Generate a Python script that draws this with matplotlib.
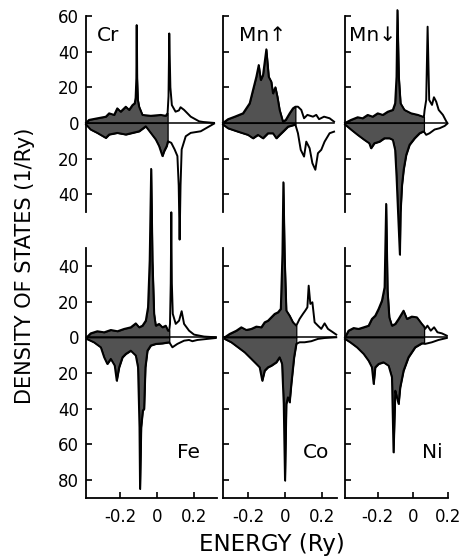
import numpy as np
import matplotlib.pyplot as plt

# spin-resolved local DOS for impurity atoms, energy in Ry, DOS in states/Ry
# spin-down values are stored as magnitudes and drawn below the zero line
cr_up_e = [-0.384, -0.368, -0.323, -0.277, -0.259, -0.232, -0.215, -0.197, -0.169, -0.151, -0.133, -0.121,
           -0.116, -0.112, -0.110, -0.108, -0.104, -0.097, -0.079, -0.034, 0.020, 0.047, 0.057, 0.062,
           0.066, 0.072, 0.080, 0.100, 0.118, 0.127, 0.146, 0.182, 0.227, 0.250, 0.308]
cr_up_d = [0, 1.7, 2.6, 3.5, 5.4, 4.5, 8.2, 6.3, 9.1, 7.3, 10.0, 11.0,
           14, 25, 54.9, 25, 13, 9.1, 4.5, 4.0, 4.5, 4.0, 5.5, 15,
           50.2, 20, 10, 6.3, 7.0, 8.8, 7.3, 3.5, 0.9, 0.5, 0]
cr_dn_e = [-0.384, -0.359, -0.323, -0.277, -0.259, -0.215, -0.169, -0.133, -0.097, -0.061, -0.034, -0.007,
           0.011, 0.029, 0.038, 0.052, 0.057, 0.059, 0.077, 0.095, 0.110, 0.117, 0.122, 0.127,
           0.133, 0.155, 0.182, 0.236, 0.308]
cr_dn_d = [0.9, 3.7, 5.6, 8.4, 6.5, 5.6, 6.5, 5.6, 4.7, 1.9, 5.6, 9.3,
           13.0, 18.6, 15.9, 13.0, 11.0, 10.3, 11.2, 14.9, 18.6, 35, 65.5, 35,
           14.9, 7.5, 5.6, 4.7, 0.4]

mnu_up_e = [-0.335, -0.308, -0.272, -0.227, -0.191, -0.173, -0.155, -0.142, -0.131, -0.119, -0.101, -0.088,
            -0.074, -0.065, -0.052, -0.041, -0.029, -0.011, 0.004, 0.025, 0.043, 0.056, 0.070, 0.088,
            0.103, 0.121, 0.151, 0.169, 0.184, 0.211, 0.241, 0.265]
mnu_up_d = [0, 2.1, 3.5, 5.4, 11.0, 18.5, 25.9, 32.5, 24.1, 26.9, 41.3, 25.9,
            23.1, 16.6, 20.0, 14.7, 7.3, 0.7, 1.7, 5.4, 8.2, 9.1, 9.1, 7.3,
            2.6, 4.5, 3.5, 4.5, 2.1, 3.5, 2.6, 0.7]
mnu_dn_e = [-0.335, -0.308, -0.254, -0.200, -0.173, -0.146, -0.119, -0.092, -0.065, -0.047, -0.029, -0.011,
            0.016, 0.056, 0.070, 0.085, 0.103, 0.115, 0.133, 0.148, 0.164, 0.178, 0.196, 0.214,
            0.241, 0.265]
mnu_dn_d = [0.9, 3.0, 4.9, 6.7, 8.6, 6.7, 8.6, 5.8, 5.8, 8.6, 6.7, 4.9,
            2.1, 0.9, 5.8, 15.1, 18.9, 10.5, 14.2, 22.6, 26.3, 17.0, 15.1, 10.5,
            5.8, 4.9]

mnd_up_e = [-0.386, -0.352, -0.314, -0.286, -0.257, -0.229, -0.200, -0.171, -0.143, -0.114, -0.101, -0.093,
            -0.088, -0.080, -0.070, -0.048, -0.010, 0.029, 0.057, 0.063, 0.067, 0.076, 0.084, 0.093,
            0.109, 0.120, 0.133, 0.147, 0.171, 0.190, 0.196]
mnd_up_d = [0, 1.7, 3.2, 2.6, 4.5, 3.5, 5.4, 4.5, 6.3, 7.3, 11.0, 25.9,
            63.3, 25.9, 11.0, 7.3, 5.4, 4.5, 3.5, 3.5, 7.3, 12.9, 54.0, 12.9,
            10.1, 14.4, 11.9, 7.3, 4.5, 0.9, 0]
mnd_dn_e = [-0.386, -0.352, -0.314, -0.276, -0.248, -0.238, -0.219, -0.190, -0.162, -0.133, -0.114, -0.101,
            -0.093, -0.085, -0.074, -0.070, -0.062, -0.052, -0.038, -0.019, 0.010, 0.038, 0.057, 0.063,
            0.076, 0.095, 0.124, 0.152, 0.181, 0.196]
mnd_dn_d = [0.9, 3.7, 6.7, 9.5, 11.4, 14.2, 11.4, 10.5, 8.6, 8.6, 9.5, 15.1,
            30.0, 48.7, 73.9, 50.0, 35.0, 26.0, 18.0, 12.3, 8.6, 5.8, 4.9, 4.9,
            6.7, 5.8, 3.7, 3.0, 1.7, 0.4]

fe_up_e = [-0.380, -0.359, -0.323, -0.286, -0.250, -0.214, -0.178, -0.142, -0.115, -0.097, -0.079, -0.061,
           -0.049, -0.040, -0.032, -0.025, -0.016, -0.007, 0.011, 0.029, 0.047, 0.059, 0.066, 0.070,
           0.074, 0.077, 0.080, 0.085, 0.101, 0.119, 0.133, 0.146, 0.173, 0.200, 0.254, 0.317]
fe_up_d = [0, 2.2, 3.4, 2.8, 4.1, 3.4, 4.7, 5.6, 7.8, 5.6, 6.5, 9.3,
           16.8, 42.9, 94.3, 42.9, 13.1, 6.5, 7.5, 5.6, 6.5, 3.7, 4.0, 7.5,
           30, 70.0, 30, 13.1, 7.5, 9.3, 14.6, 7.5, 3.7, 1.5, 0.4, 0]
fe_dn_e = [-0.380, -0.341, -0.304, -0.286, -0.269, -0.250, -0.229, -0.218, -0.205, -0.187, -0.169, -0.142,
           -0.115, -0.103, -0.095, -0.092, -0.086, -0.077, -0.070, -0.063, -0.052, -0.034, -0.007, 0.029,
           0.066, 0.083, 0.110, 0.146, 0.173, 0.191, 0.218, 0.317]
fe_dn_d = [0.9, 2.8, 5.6, 11.2, 14.9, 12.1, 15.8, 24.3, 16.8, 11.2, 9.3, 7.5,
           10.2, 16.8, 50.4, 84.9, 50.4, 41.0, 40.1, 16.8, 7.5, 4.6, 3.7, 3.4,
           2.8, 5.6, 3.7, 1.9, 1.5, 2.2, 1.5, 0.4]

co_up_e = [-0.326, -0.299, -0.263, -0.236, -0.209, -0.182, -0.155, -0.128, -0.110, -0.092, -0.074, -0.056,
           -0.038, -0.023, -0.014, -0.009, -0.002, 0.007, 0.025, 0.043, 0.061, 0.079, 0.097, 0.110,
           0.121, 0.128, 0.137, 0.148, 0.160, 0.178, 0.196, 0.214, 0.232, 0.259, 0.277]
co_up_d = [0, 1.9, 3.7, 5.6, 4.1, 4.7, 6.0, 5.6, 8.4, 9.3, 11.2, 13.1,
           14.0, 15.9, 46.7, 86.8, 44.8, 15.0, 12.1, 8.4, 6.5, 10.3, 13.1, 15.0,
           16.8, 28.9, 18.7, 19.6, 8.4, 6.5, 4.7, 7.8, 4.7, 2.8, 1.5]
co_dn_e = [-0.326, -0.290, -0.254, -0.218, -0.182, -0.155, -0.137, -0.123, -0.110, -0.092, -0.074, -0.047,
           -0.029, -0.016, -0.007, 0.000, 0.007, 0.016, 0.025, 0.034, 0.049, 0.061, 0.079, 0.106,
           0.142, 0.178, 0.214, 0.277]
co_dn_d = [0.9, 2.8, 5.6, 8.4, 12.1, 14.9, 16.8, 24.3, 18.7, 16.8, 15.9, 14.0,
           11.2, 14.9, 37.3, 80.2, 37.3, 33.6, 36.4, 26.1, 11.2, 3.7, 2.8, 2.8,
           2.2, 0.9, 0.4, 0]

ni_up_e = [-0.386, -0.366, -0.337, -0.309, -0.280, -0.252, -0.233, -0.214, -0.195, -0.176, -0.161, -0.152,
           -0.144, -0.134, -0.119, -0.100, -0.081, -0.053, -0.034, -0.006, 0.023, 0.051, 0.064, 0.070,
           0.083, 0.102, 0.121, 0.140, 0.165, 0.193]
ni_up_d = [0, 3.7, 5.2, 4.7, 5.6, 6.5, 10.3, 12.1, 15.9, 20.5, 28.0, 74.7,
           26.1, 11.2, 6.5, 7.5, 10.3, 14.9, 10.3, 11.6, 11.2, 7.5, 6.0, 4.7,
           6.5, 3.7, 5.6, 2.8, 2.2, 0.9]
ni_dn_e = [-0.386, -0.356, -0.318, -0.280, -0.252, -0.233, -0.223, -0.214, -0.195, -0.167, -0.138, -0.119,
           -0.110, -0.100, -0.091, -0.081, -0.072, -0.053, -0.025, 0.013, 0.051, 0.064, 0.070, 0.108,
           0.146, 0.193]
ni_dn_d = [0.9, 2.8, 5.6, 9.3, 13.1, 16.8, 26.1, 16.8, 14.9, 14.0, 15.9, 22.4,
           64.4, 29.9, 33.6, 37.3, 28.0, 18.7, 11.2, 5.6, 3.4, 3.4, 3.7, 2.8,
           1.5, 0.4]

panel_names = ["Cr", "Mn\u2191", "Mn\u2193", "Fe", "Co", "Ni"]
# end of the shaded (occupied) part of each curve
fill_edge = [0.057, 0.056, 0.063, 0.066, 0.061, 0.064]

curves = [
    (cr_up_e, cr_up_d, cr_dn_e, cr_dn_d),
    (mnu_up_e, mnu_up_d, mnu_dn_e, mnu_dn_d),
    (mnd_up_e, mnd_up_d, mnd_dn_e, mnd_dn_d),
    (fe_up_e, fe_up_d, fe_dn_e, fe_dn_d),
    (co_up_e, co_up_d, co_dn_e, co_dn_d),
    (ni_up_e, ni_up_d, ni_dn_e, ni_dn_d),
]

W, H = 464, 556
fig = plt.figure(figsize=(W / 100, H / 100), dpi=100)

# panel frames in pixels (left, right) per column, (top, bottom) per row
cols = [(86, 217), (223, 337), (345, 448)]
rows = [(16, 212), (248, 498)]
xlims = [(-0.384, 0.324), (-0.335, 0.281), (-0.386, 0.2)]
ylims = [(-50, 60), (-90, 50)]
# panel name anchor (axes fraction) and alignment
label_pos = [(0.084, 0.898, 'left'), (0.14, 0.903, 'left'), (0.04, 0.903, 'left'),
             (0.87, 0.18, 'right'), (0.93, 0.18, 'right'), (0.951, 0.18, 'right')]

shade = '#525252'

for i in range(6):
    r, c = divmod(i, 3)
    x0, x1 = cols[c]
    y0, y1 = rows[r]
    ax = fig.add_axes([x0 / W, 1 - y1 / H, (x1 - x0) / W, (y1 - y0) / H])
    ax.set_xlim(*xlims[c])
    ax.set_ylim(*ylims[r])
    ax.patch.set_alpha(0)

    up_e, up_d, dn_e, dn_d = [np.array(a, dtype=float) for a in curves[i]]
    edge = fill_edge[i]

    # shaded occupied part
    m = up_e < edge
    fe_x = np.append(up_e[m], edge)
    fe_y = np.append(up_d[m], np.interp(edge, up_e, up_d))
    ax.fill_between(fe_x, 0, fe_y, facecolor=shade, edgecolor='black', linewidth=0.9, clip_on=False, zorder=2)
    m = dn_e < edge
    fe_x = np.append(dn_e[m], edge)
    fe_y = np.append(dn_d[m], np.interp(edge, dn_e, dn_d))
    ax.fill_between(fe_x, 0, -fe_y, facecolor=shade, edgecolor='black', linewidth=0.9, clip_on=False, zorder=2)

    ax.plot(up_e, up_d, color='black', lw=1.4, clip_on=False, zorder=3)
    ax.plot(dn_e, -dn_d, color='black', lw=1.4, clip_on=False, zorder=3)
    ax.plot([min(up_e[0], dn_e[0]), max(up_e[-1], dn_e[-1])], [0, 0], color='black', lw=1.1, zorder=3)

    for s in ['top', 'right']:
        ax.spines[s].set_visible(False)
    ax.spines['left'].set_linewidth(1.3)
    ax.spines['bottom'].set_linewidth(1.3)

    if r == 0:
        ax.spines['bottom'].set_visible(False)
        ax.set_xticks([])
        yt = [-40, -20, 0, 20, 40, 60]
    else:
        yt = [-80, -60, -40, -20, 0, 20, 40]
        ax.set_xticks([-0.2, 0, 0.2])
        ax.set_xticklabels(["-0.2", "0", "0.2"], fontsize=12)
    ax.set_yticks(yt)
    if c == 0:
        ax.set_yticklabels([str(abs(v)) for v in yt], fontsize=12)
    else:
        ax.set_yticklabels([])
    ax.tick_params(direction='in', length=4, width=1.2, pad=5)
    ax.tick_params(axis='x', pad=7)

    lx, ly, lha = label_pos[i]
    ax.text(lx, ly, panel_names[i], transform=ax.transAxes,
            ha=lha, va='center', fontsize=14.5)

fig.text(0.054, 0.522, "DENSITY OF STATES (1/Ry)", rotation=90, ha='center', va='center', fontsize=15)
fig.text(0.586, 0.02, "ENERGY (Ry)", ha='center', va='center', fontsize=16.5)

fig.savefig("out.png", dpi=100)
